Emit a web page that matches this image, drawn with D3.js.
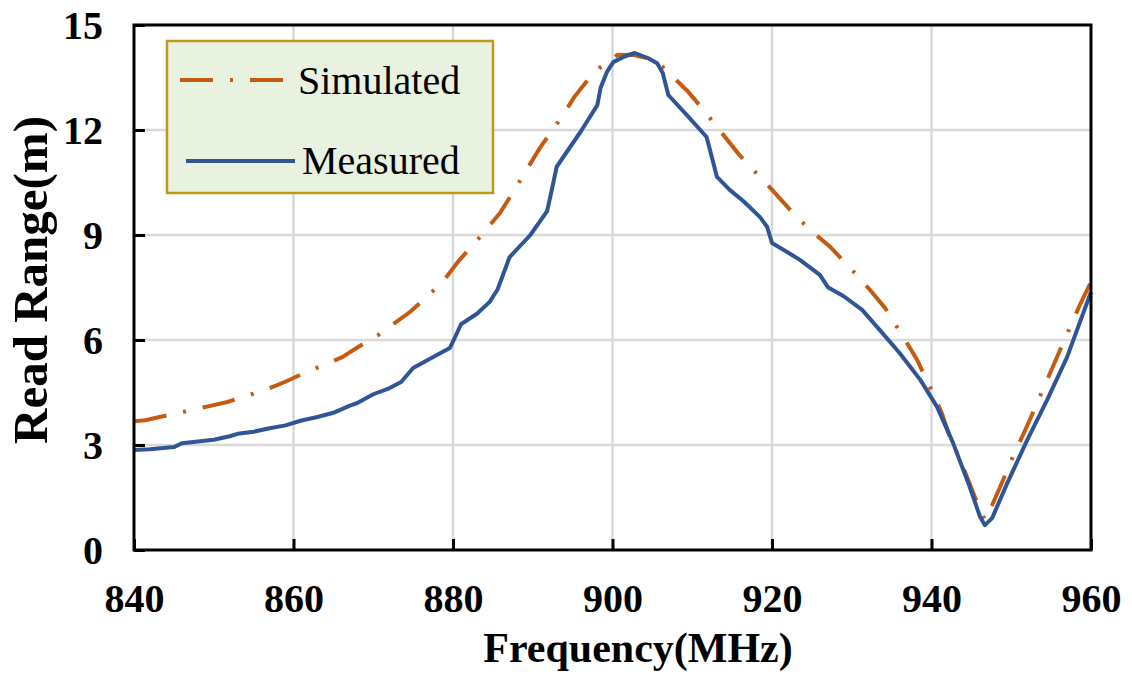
<!DOCTYPE html>
<html>
<head>
<meta charset="utf-8">
<title>Read Range vs Frequency</title>
<script src="https://d3js.org/d3.v7.min.js"></script>
<style>
  body { margin: 0; background: #fff; }
  svg { display: block; }
</style>
</head>
<body>
<div id="chart"></div>
<script>
// x ticks / y ticks
const xTicks = [840, 860, 880, 900, 920, 940, 960];
const yTicks = [0, 3, 6, 9, 12, 15];

// Simulated curve (MHz, m)
const simFreq = [840, 841.4, 846.1, 849, 851.7, 856.4, 858.9, 861.4, 866.1, 868.3, 870.6, 874.6, 876.7, 878.7, 880.6,
  883.6, 885.9, 888, 890.9, 893.8, 895.2, 896.9, 898.5, 900.6, 902.5, 904.5, 906.3, 909.5, 911.2, 913.1, 915.9, 917.9,
  919.7, 923.1, 925.1, 927.3, 930.4, 932.3, 934.2, 936.7, 938.2, 939.4, 941.3, 942.3, 943.6, 945.1, 946.3, 946.8,
  948.6, 950.2, 952, 954.2, 956, 958.6, 960];
const simRange = [3.68, 3.71, 3.94, 4.09, 4.23, 4.57, 4.8, 5.06, 5.51, 5.83, 6.14, 6.8, 7.23, 7.66, 8.23,
  9.0, 9.63, 10.4, 11.49, 12.43, 12.94, 13.43, 13.8, 14.14, 14.15, 14.05, 13.8, 13.09, 12.63, 12.09, 11.29, 10.8,
  10.37, 9.51, 9.09, 8.66, 7.91, 7.43, 6.91, 6.0, 5.43, 4.86, 3.91, 3.23, 2.57, 1.71, 1.0, 0.86,
  1.8, 2.66, 3.55, 4.7, 5.65, 7.0, 7.66];

// Measured curve (MHz, m)
const measFreq = [840, 842, 844, 845, 846, 848, 850, 852, 853, 855, 857, 859, 861, 863, 865, 867, 868, 870, 872,
  873.5, 875, 877, 879.6, 880.3, 881, 883, 884.6, 885.6, 886.5, 887.1, 889.7, 891.8, 892.4, 893, 894.5, 896,
  898.1, 898.5, 899.3, 900.1, 901.5, 902.8, 904.5, 905.6, 906.3, 907, 909.3, 911.8, 913.1, 914.7, 916.5, 918.5,
  919.4, 920, 922, 923.5, 926, 927, 929, 931.3, 933.5, 936, 938.6, 940.7, 942.7, 944.8, 946.1, 946.7, 947.6,
  949.5, 952, 954.5, 957, 960];
const measRange = [2.86, 2.88, 2.92, 2.94, 3.05, 3.1, 3.15, 3.25, 3.32, 3.38, 3.48, 3.56, 3.7, 3.8, 3.92, 4.12, 4.2, 4.45, 4.62,
  4.8, 5.2, 5.45, 5.77, 6.1, 6.45, 6.75, 7.09, 7.45, 8.0, 8.37, 9.0, 9.68, 10.3, 10.95, 11.45, 11.95,
  12.71, 13.2, 13.66, 13.94, 14.1, 14.2, 14.05, 13.91, 13.63, 13.0, 12.43, 11.8, 10.66, 10.29, 9.95, 9.51,
  9.23, 8.77, 8.5, 8.29, 7.86, 7.51, 7.25, 6.86, 6.29, 5.63, 4.86, 4.09, 3.06, 1.8, 0.94, 0.71, 0.91,
  1.91, 3.14, 4.29, 5.51, 7.37];

const seriesNames = ["Simulated", "Measured"];
const simColor = "#c55a11";
const measColor = "#2f5597";
const simDash = "33,17,3,17";
const serif = "'Liberation Serif', 'Times New Roman', serif";

const width = 1132, height = 675;
const margin = { top: 25, right: 41, bottom: 125, left: 134 };
const innerW = width - margin.left - margin.right;
const innerH = height - margin.top - margin.bottom;

const svg = d3.select("#chart").append("svg")
  .attr("width", width)
  .attr("height", height);

const g = svg.append("g").attr("transform", `translate(${margin.left},${margin.top})`);

const x = d3.scaleLinear().domain([840, 960]).range([0, innerW]);
const y = d3.scaleLinear().domain([0, 15]).range([innerH, 0]);

// gridlines
g.append("g")
  .selectAll("line")
  .data(xTicks.slice(1, -1))
  .join("line")
  .attr("x1", d => x(d)).attr("x2", d => x(d))
  .attr("y1", 0).attr("y2", innerH)
  .attr("stroke", "#d9d9d9").attr("stroke-width", 2.5);

g.append("g")
  .selectAll("line")
  .data(yTicks.slice(1, -1))
  .join("line")
  .attr("x1", 0).attr("x2", innerW)
  .attr("y1", d => y(d)).attr("y2", d => y(d))
  .attr("stroke", "#d9d9d9").attr("stroke-width", 2.5);

// lines
const sim = simFreq.map((f, i) => [f, simRange[i]]);
const meas = measFreq.map((f, i) => [f, measRange[i]]);

const line = d3.line().x(d => x(d[0])).y(d => y(d[1]));

g.append("path")
  .datum(sim)
  .attr("fill", "none")
  .attr("stroke", simColor)
  .attr("stroke-width", 4)
  .attr("stroke-dasharray", simDash)
  .attr("d", line);

g.append("path")
  .datum(meas)
  .attr("fill", "none")
  .attr("stroke", measColor)
  .attr("stroke-width", 4)
  .attr("stroke-linejoin", "round")
  .attr("d", line);

// axes (inside ticks; frame drawn separately)
const xAxis = d3.axisBottom(x).tickValues(xTicks).tickSizeInner(-11).tickSizeOuter(0).tickFormat(d3.format("d"));
const yAxis = d3.axisLeft(y).tickValues(yTicks).tickSizeInner(-11).tickSizeOuter(0).tickFormat(d3.format("d"));

const gx = g.append("g").attr("transform", `translate(0,${innerH})`).call(xAxis);
gx.select(".domain").remove();
gx.selectAll(".tick line").attr("stroke", "#000").attr("stroke-width", 3);
gx.selectAll(".tick text")
  .attr("y", 62)
  .attr("dy", null);

const gy = g.append("g").call(yAxis);
gy.select(".domain").remove();
gy.selectAll(".tick line").attr("stroke", "#000").attr("stroke-width", 3);
gy.selectAll(".tick text")
  .attr("x", -31)
  .attr("dy", "0.34em");

[gx, gy].forEach(a => a
  .attr("font-family", serif)
  .attr("font-size", 40)
  .attr("font-weight", "bold"));
svg.selectAll(".tick text").attr("fill", "#000");

// frame
g.append("rect")
  .attr("x", 0).attr("y", 0)
  .attr("width", innerW).attr("height", innerH)
  .attr("fill", "none")
  .attr("stroke", "#000")
  .attr("stroke-width", 3);

// axis titles
svg.append("text")
  .attr("x", 638)
  .attr("y", 662)
  .attr("text-anchor", "middle")
  .attr("font-family", serif)
  .attr("font-weight", "bold")
  .attr("font-size", 42)
  .text("Frequency(MHz)");

svg.append("text")
  .attr("transform", "translate(47,280) rotate(-90)")
  .attr("text-anchor", "middle")
  .attr("font-family", serif)
  .attr("font-weight", "bold")
  .attr("font-size", 49)
  .text("Read Range(m)");

// legend
const legend = svg.append("g").attr("font-family", serif).attr("font-size", 40);
legend.append("rect")
  .attr("x", 167).attr("y", 41)
  .attr("width", 326).attr("height", 152)
  .attr("fill", "#e9f1e1")
  .attr("stroke", "#bf9a1a")
  .attr("stroke-width", 2.5);

legend.append("line")
  .attr("x1", 180).attr("x2", 295).attr("y1", 80).attr("y2", 80)
  .attr("stroke", simColor).attr("stroke-width", 4)
  .attr("stroke-dasharray", simDash);
legend.append("text")
  .attr("x", 298).attr("y", 94)
  .text(seriesNames[0]);

legend.append("line")
  .attr("x1", 186).attr("x2", 295).attr("y1", 161).attr("y2", 161)
  .attr("stroke", measColor).attr("stroke-width", 4);
legend.append("text")
  .attr("x", 302).attr("y", 174)
  .text(seriesNames[1]);
</script>
</body>
</html>
